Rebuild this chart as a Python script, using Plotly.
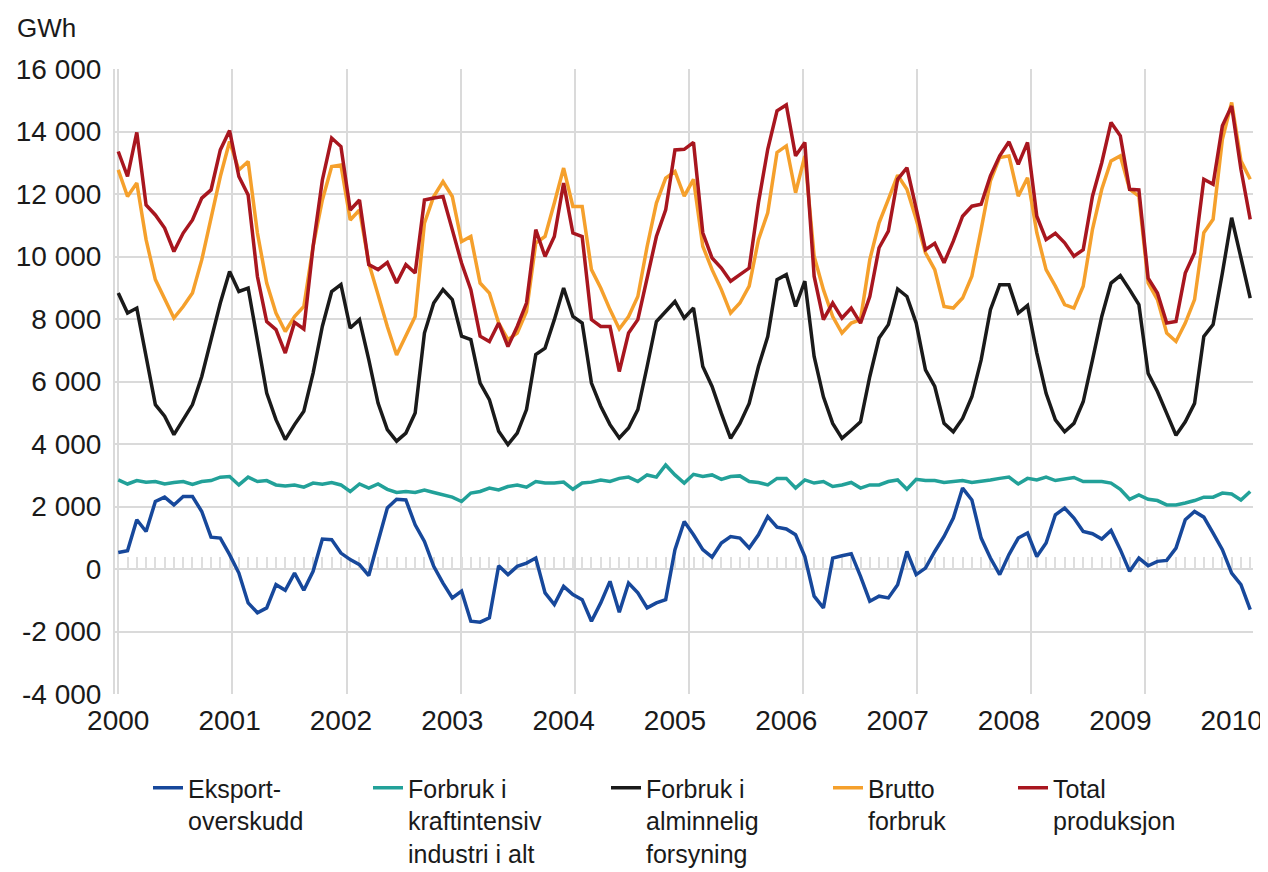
import plotly.graph_objects as go

# Monthly observations, January 2000 .. March 2010 (123 months)
months = list(range(123))
year_ticks = [0, 12, 24, 36, 48, 60, 72, 84, 96, 108, 120]
year_labels = ["2000", "2001", "2002", "2003", "2004", "2005", "2006", "2007", "2008", "2009", "2010"]
y_ticks = [-4000, -2000, 0, 2000, 4000, 6000, 8000, 10000, 12000, 14000, 16000]
y_labels = ["-4 000", "-2 000", "0", "2 000", "4 000", "6 000", "8 000", "10 000", "12 000", "14 000", "16 000"]

eksport = [530, 585, 1575, 1200, 2160, 2300, 2050, 2320, 2320, 1840, 1020, 990,
           460, -130, -1085, -1400, -1245, -500, -680, -130, -680, -75, 960, 940,
           510, 300, 140, -210, 880, 1950, 2230, 2210, 1415, 880, 85, -450,
           -925, -710, -1670, -1700, -1565, 105, -180, 85, 190, 350, -765, -1140,
           -555, -820, -980, -1670, -1085, -395, -1385, -450, -765, -1245, -1085, -980,
           620, 1520, 1095, 620, 380, 830, 1040, 990, 670, 1095, 1680, 1340,
           1280, 1095, 400, -870, -1245, 350, 425, 490, -235, -1030, -870, -925,
           -500, 560, -180, 30, 560, 1040, 1630, 2590, 2210, 990, 350, -180,
           460, 990, 1150, 400, 830, 1735, 1950, 1630, 1200, 1130, 960, 1235,
           620, -75, 350, 105, 245, 275, 670, 1575, 1840, 1660, 1150, 620,
           -130, -500, -1300]

kraftintensiv = [2850, 2720, 2830, 2780, 2800, 2720, 2770, 2800, 2710, 2800, 2830, 2940,
                 2960, 2690, 2940, 2800, 2830, 2690, 2660, 2690, 2620, 2750, 2710, 2770,
                 2690, 2480, 2720, 2590, 2720, 2550, 2450, 2480, 2450, 2530, 2450, 2370,
                 2300, 2160, 2430, 2480, 2590, 2530, 2640, 2690, 2620, 2800, 2750, 2750,
                 2780, 2550, 2750, 2780, 2850, 2800, 2900, 2940, 2800, 3010, 2940, 3330,
                 3010, 2750, 3030, 2960, 3010, 2870, 2960, 2980, 2800, 2770, 2690, 2900,
                 2900, 2590, 2850, 2750, 2800, 2640, 2690, 2770, 2590, 2690, 2690, 2800,
                 2850, 2550, 2870, 2830, 2830, 2770, 2800, 2830, 2770, 2800, 2850, 2900,
                 2940, 2720, 2900, 2850, 2940, 2830, 2870, 2930, 2800, 2800, 2800, 2750,
                 2550, 2230, 2370, 2230, 2190, 2050, 2050, 2110, 2190, 2300, 2300, 2430,
                 2400, 2210, 2480]

alminnelig = [8830, 8190, 8350, 6800, 5260, 4890, 4300, 4780, 5260, 6160, 7340, 8510,
              9520, 8880, 8990, 7230, 5630, 4780, 4140, 4620, 5050, 6270, 7770, 8880,
              9100, 7710, 7980, 6700, 5310, 4460, 4090, 4350, 4990, 7550, 8510, 8940,
              8620, 7450, 7340, 5950, 5420, 4410, 3980, 4350, 5100, 6860, 7070, 7980,
              8990, 8080, 7870, 5950, 5210, 4620, 4190, 4510, 5100, 6480, 7920, 8240,
              8560, 8030, 8350, 6480, 5840, 4980, 4180, 4660, 5300, 6480, 7440, 9260,
              9420, 8400, 9210, 6800, 5510, 4660, 4180, 4440, 4710, 6160, 7390, 7820,
              8960, 8720, 7870, 6370, 5840, 4660, 4390, 4820, 5510, 6690, 8300, 9100,
              9100, 8190, 8430, 6910, 5620, 4770, 4390, 4660, 5350, 6690, 8080, 9150,
              9390, 8940, 8460, 6260, 5680, 4980, 4280, 4710, 5300, 7440, 7820, 9470,
              11240, 9960, 8670]

brutto = [12770, 11920, 12350, 10540, 9260, 8620, 8030, 8400, 8830, 9890, 11170, 12560,
          13680, 12770, 13040, 10750, 9150, 8190, 7600, 8080, 8400, 10320, 11810, 12880,
          12930, 11170, 11490, 9790, 8780, 7760, 6850, 7490, 8080, 11070, 11920, 12400,
          11920, 10480, 10640, 9150, 8830, 7870, 7340, 7550, 8240, 10430, 10640, 11710,
          12830, 11600, 11600, 9580, 8990, 8300, 7680, 8080, 8720, 10320, 11710, 12510,
          12720, 11930, 12470, 10330, 9580, 8940, 8190, 8510, 9050, 10540, 11400, 13330,
          13540, 12040, 13220, 10010, 8940, 8080, 7550, 7870, 7980, 9900, 11080, 11830,
          12600, 12150, 11190, 10120, 9580, 8400, 8350, 8670, 9370, 10870, 12420, 13170,
          13220, 11930, 12520, 10760, 9580, 9050, 8460, 8350, 9050, 10870, 12150, 13060,
          13220, 12150, 11930, 9150, 8620, 7550, 7280, 7870, 8620, 10760, 11190, 13750,
          14930, 13060, 12470]

total = [13360, 12560, 13970, 11650, 11330, 10910, 10160, 10750, 11170, 11870, 12130, 13410,
         14030, 12560, 11970, 9360, 7920, 7660, 6910, 7890, 7680, 10320, 12450, 13790,
         13520, 11490, 11810, 9740, 9580, 9810, 9150, 9740, 9470, 11810, 11870, 11920,
         10860, 9790, 8940, 7450, 7280, 7870, 7120, 7760, 8510, 10860, 10000, 10640,
         12350, 10750, 10640, 7980, 7760, 7760, 6320, 7550, 7980, 9360, 10640, 11490,
         13410, 13430, 13650, 10760, 9950, 9630, 9210, 9420, 9630, 11720, 13430, 14660,
         14850, 13220, 13650, 9370, 7980, 8510, 8030, 8350, 7870, 8720, 10280, 10810,
         12470, 12840, 11510, 10220, 10420, 9800, 10490, 11290, 11610, 11670, 12580, 13220,
         13670, 12950, 13650, 11290, 10540, 10740, 10440, 10010, 10220, 11930, 13000, 14290,
         13860, 12150, 12130, 9310, 8830, 7870, 7920, 9470, 10120, 12470, 12310, 14180,
         14820, 12790, 11190]

series = [
    ("Eksport-<br>overskudd", eksport, "#17489b", "legend"),
    ("Forbruk i<br>kraftintensiv<br>industri i alt", kraftintensiv, "#22a199", "legend2"),
    ("Forbruk i<br>alminnelig<br>forsyning", alminnelig, "#1a1a1a", "legend3"),
    ("Brutto<br>forbruk", brutto, "#f5a02c", "legend4"),
    ("Total<br>produksjon", total, "#a8161f", "legend5"),
]

fig = go.Figure()
for name, vals, color, leg in series:
    fig.add_trace(go.Scatter(x=months, y=vals, mode="lines", name=name,
                             line=dict(color=color, width=3.5), legend=leg,
                             hoverinfo="skip"))

# helper trace so the zero-line month ticks (xaxis2) get drawn
fig.add_trace(go.Scatter(x=[0], y=[None], xaxis="x2", mode="lines",
                         showlegend=False, hoverinfo="skip"))

XR = [-0.35, 122.3]
GRID = "#dadada"
FONT = "Liberation Sans, Arial, sans-serif"

# figure sits 8 px inside the page (body margin), so layout pixels = screen - 8
L, T, PW, PH = 107, 61, 1138, 625
BOTTOM = T + PH  # 686

def legend_box(text_screen_x):
    return dict(x=(text_screen_x - 50 - L) / PW, y=(BOTTOM - 757) / PH,
                xanchor="left", yanchor="top",
                orientation="v", valign="top", bgcolor="rgba(0,0,0,0)",
                font=dict(family=FONT, size=25, color="#1a1a1a"), itemwidth=30,
                tracegroupgap=0)

fig.update_layout(
    width=1260, height=864,
    margin=dict(l=L, r=1260 - L - PW, t=T, b=864 - BOTTOM, autoexpand=False),
    paper_bgcolor="white", plot_bgcolor="white",
    font=dict(family=FONT, size=28, color="#1a1a1a"),
    showlegend=True,
    xaxis=dict(range=XR, tickmode="array", tickvals=year_ticks, ticktext=year_labels,
               showgrid=False, zeroline=False, showline=False, ticks="",
               ticklabelstandoff=7, automargin=False,
               minor=dict(tickmode="linear", tick0=0, dtick=12.3, showgrid=True,
                          gridcolor=GRID, gridwidth=2, ticks="")),
    xaxis2=dict(range=XR, overlaying="x", anchor="free", position=0.2, side="bottom",
                ticks="inside", ticklen=12, tickwidth=2, tickcolor="#dedede",
                tickmode="linear", tick0=0, dtick=1, showticklabels=False,
                showgrid=False, zeroline=False, showline=False, layer="below traces"),
    yaxis=dict(range=[-4000, 16000], tickmode="array", tickvals=y_ticks, ticktext=y_labels,
               showgrid=True, gridcolor=GRID, gridwidth=2, zeroline=False,
               showline=True, linecolor=GRID, linewidth=2, ticks="",
               ticklabelstandoff=6, automargin=False),
    legend=legend_box(190),
    legend2=legend_box(410),
    legend3=legend_box(648),
    legend4=legend_box(870),
    legend5=legend_box(1055),
    annotations=[dict(text="GWh", xref="paper", yref="paper", x=(7 - L) / PW,
                      y=(BOTTOM - 20) / PH, xanchor="left", yanchor="middle",
                      showarrow=False, font=dict(family=FONT, size=26, color="#1a1a1a"))],
)

fig.write_html("out.html")
